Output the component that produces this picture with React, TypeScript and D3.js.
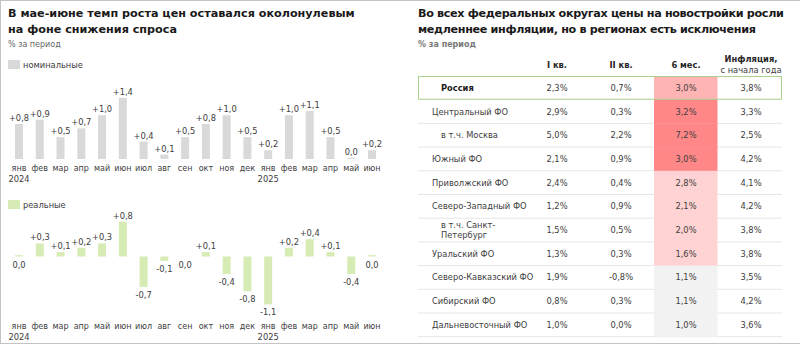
import React from "react";
import * as d3 from "d3";

const months = ["янв","фев","мар","апр","май","июн","июл","авг","сен","окт","ноя","дек","янв","фев","мар","апр","май","июн"];
const years = ["2024","","","","","","","","","","","","2025","","","","",""];
const nominal = [0.8,0.9,0.5,0.7,1.0,1.4,0.4,0.1,0.5,0.8,1.0,0.5,0.2,1.0,1.1,0.5,0.03,0.2];
const real = [0.03,0.3,0.1,0.2,0.3,0.8,-0.7,-0.1,0.0,0.1,-0.4,-0.8,-1.1,0.2,0.4,0.1,-0.4,0.03];

const regions = [["Россия"],["Центральный ФО"],["в т.ч. Москва"],["Южный ФО"],["Приволжский ФО"],["Северо-Западный ФО"],["в т.ч. Санкт-","Петербург"],["Уральский ФО"],["Северо-Кавказский ФО"],["Сибирский ФО"],["Дальневосточный ФО"]];
const regionLevel = ["total","main","sub","main","main","main","sub","main","main","main","main"];
const q1 = [2.3,2.9,5.0,2.1,2.4,1.2,1.5,1.3,1.9,0.8,1.0];
const q2 = [0.7,0.3,2.2,0.9,0.4,0.9,0.5,0.3,-0.8,0.3,0.0];
const h1 = [3.0,3.2,7.2,3.0,2.8,2.1,2.0,1.6,1.1,1.1,1.0];
const inflation = [3.8,3.3,2.5,4.2,4.1,4.2,3.8,3.8,3.5,4.2,3.6];
const heat = ["russia","high","high","high","mid","mid","mid","mid","low","low","low"];
const headers = [["I кв."],["II кв."],["6 мес."],["Инфляция,","с начала года"]];

const FONT = "'DejaVu Sans', Verdana, sans-serif";
const TXT = "#404040";

const fmtSigned = (v: number) => {
  const r = Math.round(v * 10) / 10;
  if (r === 0) return "0,0";
  return (r > 0 ? "+" : "-") + Math.abs(r).toFixed(1).replace(".", ",");
};
const fmtPct = (v: number) => v.toFixed(1).replace(".", ",") + "%";

const heatColor = d3.scaleOrdinal<string, string>()
  .domain(["russia","high","mid","low"])
  .range(["#ffb4b4","#ff8787","#ffd3d3","#f2f2f2"]);

export default function App() {
  const x = d3.scalePoint<number>().domain(d3.range(months.length)).range([19, 372]);
  const bw = 8;
  const yTop = d3.scaleLinear().domain([0, 1.4]).range([159, 97.8]);
  const yBot = d3.scaleLinear().domain([0, 0.8]).range([256.5, 221.7]);

  const tableX = d3.scaleOrdinal<number, number>().domain([0,1,2,3]).range([557, 621, 686, 751]);
  const rowY = d3.scaleLinear().domain([0, 11]).range([76, 336.7]);
  const rowH = rowY(1) - rowY(0);

  const monthAxis = (y0: number) => months.map((m, i) => (
    <g key={"m" + y0 + i}>
      <text x={x(i)} y={y0} textAnchor="middle" fontSize={8} fill={TXT}>{m}</text>
      {years[i] && <text x={x(i)} y={y0 + 11} textAnchor="middle" fontSize={8.3} fill={TXT}>{years[i]}</text>}
    </g>
  ));

  return (
    <svg width={800} height={345} style={{ position: "absolute", left: 0, top: 0, fontFamily: FONT }}>
      <rect x={0} y={0} width={800} height={345} fill="#fff" />
      <line x1={0.5} y1={0} x2={0.5} y2={344} stroke="#c4c4c4" />
      <line x1={0} y1={0.5} x2={800} y2={0.5} stroke="#c4c4c4" />
      <line x1={0} y1={343.5} x2={800} y2={343.5} stroke="#c4c4c4" />

      {/* Left titles */}
      <text x={8} y={17} fontSize={11.2} fontWeight="bold" fill="#1a1a1a">В мае-июне темп роста цен оставался околонулевым</text>
      <text x={8} y={33} fontSize={11.2} fontWeight="bold" fill="#1a1a1a">на фоне снижения спроса</text>
      <text x={8} y={47} fontSize={8} fill="#666">% за период</text>

      {/* Top chart */}
      <rect x={8} y={60} width={12} height={9} fill="#d9d9d9" />
      <text x={23} y={68} fontSize={8.3} fill={TXT}>номинальные</text>
      {nominal.map((v, i) => (
        <g key={"n" + i}>
          <rect x={(x(i) as number) - bw / 2} y={yTop(Math.max(v, 0))} width={bw} height={Math.abs(yTop(v) - yTop(0))} fill="#d9d9d9" />
          <text x={x(i)} y={yTop(Math.max(v, 0)) - 3} textAnchor="middle" fontSize={8.3} fill={TXT}>{fmtSigned(v)}</text>
        </g>
      ))}
      {monthAxis(171)}

      {/* Bottom chart */}
      <rect x={8} y={200} width={12} height={9} fill="#d6ecb4" />
      <text x={23} y={208} fontSize={8.3} fill={TXT}>реальные</text>
      {real.map((v, i) => {
        const r = Math.round(v * 10) / 10;
        const top = yBot(Math.max(v, 0));
        const bottom = yBot(Math.min(v, 0));
        return (
          <g key={"r" + i}>
            <rect x={(x(i) as number) - bw / 2} y={top} width={bw} height={bottom - top} fill="#d6ecb4" />
            <text x={x(i)} y={r > 0 ? top - 3 : bottom + 11} textAnchor="middle" fontSize={8.3} fill={TXT}>{fmtSigned(v)}</text>
          </g>
        );
      })}
      {monthAxis(329)}

      {/* Right titles */}
      <text x={418} y={17} fontSize={11.2} fontWeight="bold" fill="#1a1a1a" letterSpacing={-0.35}>Во всех федеральных округах цены на новостройки росли</text>
      <text x={418} y={33} fontSize={11.2} fontWeight="bold" fill="#1a1a1a" letterSpacing={-0.35}>медленнее инфляции, но в регионах есть исключения</text>
      <text x={418} y={47} fontSize={8} fontWeight="bold" fill="#777">% за период</text>

      {/* Table headers */}
      {headers.map((h, j) => (
        <g key={"h" + j}>
          {h.length === 1 ? (
            <text x={tableX(j)} y={68} textAnchor="middle" fontSize={8.3} fontWeight="bold" fill="#262626">{h[0]}</text>
          ) : (
            <>
              <text x={tableX(j)} y={62} textAnchor="middle" fontSize={8.3} fontWeight="bold" fill="#262626">{h[0]}</text>
              <text x={tableX(j)} y={73} textAnchor="middle" fontSize={8.3} fill={TXT}>{h[1]}</text>
            </>
          )}
        </g>
      ))}

      {/* Row separators */}
      {regions.map((_, i) => i > 0 ? (
        <line key={"s" + i} x1={418} x2={782} y1={rowY(i + 1)} y2={rowY(i + 1)} stroke="#e6e6e6" strokeWidth={1} />
      ) : null)}

      {/* Heat cells */}
      {h1.map((_, i) => (
        <rect key={"c" + i} x={654} y={rowY(i)} width={63.5} height={rowH + 0.3} fill={heatColor(heat[i])} />
      ))}

      {/* Russia highlight */}
      <rect x={418.5} y={rowY(0) + 0.5} width={363} height={rowH - 1} fill="none" stroke="#a9d18e" strokeWidth={1} />

      {/* Rows */}
      {regions.map((lines, i) => {
        const cy = rowY(i) + rowH / 2;
        const lx = regionLevel[i] === "main" ? 432 : 441;
        const vals = [q1[i], q2[i], h1[i], inflation[i]];
        return (
          <g key={"row" + i}>
            {lines.length === 1 ? (
              <text x={lx} y={cy + 3} fontSize={8.3} fontWeight={regionLevel[i] === "total" ? "bold" : "normal"} fill={regionLevel[i] === "total" ? "#1a1a1a" : TXT}>{lines[0]}</text>
            ) : (
              <>
                <text x={lx} y={cy - 2.5} fontSize={8.3} fill={TXT}>{lines[0]}</text>
                <text x={lx} y={cy + 8} fontSize={8.3} fill={TXT}>{lines[1]}</text>
              </>
            )}
            {vals.map((v, j) => (
              <text key={j} x={tableX(j)} y={cy + 3} textAnchor="middle" fontSize={8.3} fill={TXT}>{fmtPct(v)}</text>
            ))}
          </g>
        );
      })}
    </svg>
  );
}
